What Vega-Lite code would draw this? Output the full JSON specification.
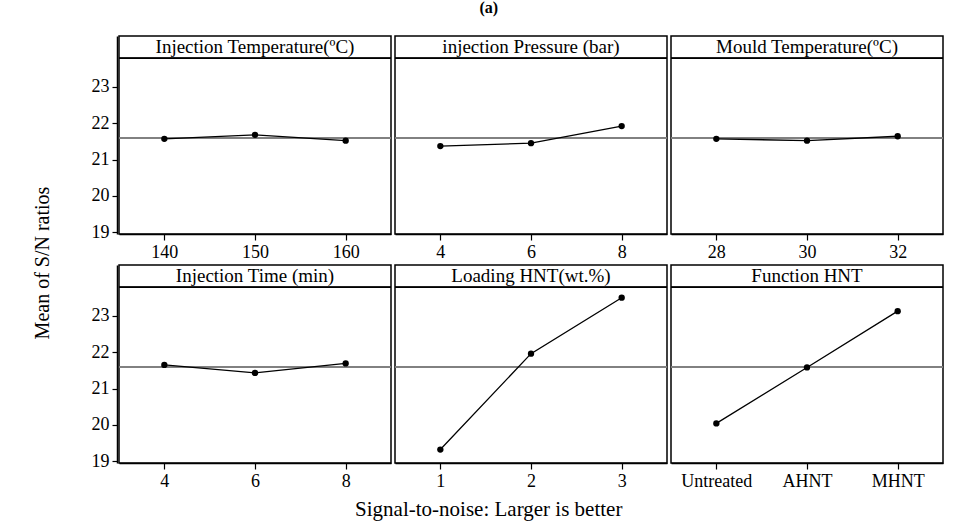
{
  "$schema": "https://vega.github.io/schema/vega-lite/v6.json",
  "padding": {"left": 33, "top": 0, "right": 25, "bottom": 2},
  "config": {
    "font": "Liberation Serif",
    "view": {"stroke": "#000", "strokeWidth": 1.5},
    "axis": {"domainColor": "#000", "domainWidth": 1.5, "tickColor": "#000", "tickWidth": 1.2, "labelColor": "#000", "labelFontSize": 18, "labelFont": "Liberation Serif", "grid": false}
  },
  "title": {"text": "(a)", "fontSize": 16, "fontWeight": "bold", "anchor": "middle", "offset": 19, "color": "#000"},
  "vconcat": [
    {
      "title": {"text": "Signal-to-noise: Larger is better", "orient": "bottom", "fontSize": 21, "fontWeight": "normal", "offset": 8, "anchor": "middle", "color": "#000"},
      "vconcat": [
        {
          "title": {"text": "Mean of S/N ratios", "orient": "left", "fontSize": 20, "fontWeight": "normal", "offset": 38, "anchor": "middle", "color": "#000"},
          "data": {
            "values": [
              {"factor": "Injection Temperature(ºC)", "level": "140", "sn": 21.57},
              {"factor": "Injection Temperature(ºC)", "level": "150", "sn": 21.68},
              {"factor": "Injection Temperature(ºC)", "level": "160", "sn": 21.52},
              {"factor": "injection Pressure (bar)", "level": "4", "sn": 21.37},
              {"factor": "injection Pressure (bar)", "level": "6", "sn": 21.45},
              {"factor": "injection Pressure (bar)", "level": "8", "sn": 21.92},
              {"factor": "Mould Temperature(ºC)", "level": "28", "sn": 21.57},
              {"factor": "Mould Temperature(ºC)", "level": "30", "sn": 21.52},
              {"factor": "Mould Temperature(ºC)", "level": "32", "sn": 21.64},
              {"factor": "Injection Time (min)", "level": "4", "sn": 21.65},
              {"factor": "Injection Time (min)", "level": "6", "sn": 21.43},
              {"factor": "Injection Time (min)", "level": "8", "sn": 21.69},
              {"factor": "Loading HNT(wt.%)", "level": "1", "sn": 19.32},
              {"factor": "Loading HNT(wt.%)", "level": "2", "sn": 21.96},
              {"factor": "Loading HNT(wt.%)", "level": "3", "sn": 23.5},
              {"factor": "Function HNT", "level": "Untreated", "sn": 20.04},
              {"factor": "Function HNT", "level": "AHNT", "sn": 21.58},
              {"factor": "Function HNT", "level": "MHNT", "sn": 23.13}
            ]
          },
          "facet": {
            "field": "factor", "type": "nominal",
            "sort": ["Injection Temperature(ºC)", "injection Pressure (bar)", "Mould Temperature(ºC)", "Injection Time (min)", "Loading HNT(wt.%)", "Function HNT"],
            "header": {"title": null, "labelFontSize": 19, "labelFont": "Liberation Serif", "labelFontWeight": "normal", "labelColor": "#000", "labelPadding": -21}
          },
          "columns": 3,
          "spacing": {"row": 2, "column": 0},
          "resolve": {"scale": {"x": "independent"}},
          "spec": {
            "width": 272,
            "height": 198,
            "layer": [
              {
                "mark": {"type": "rule", "color": "#7f7f7f", "strokeWidth": 1.5},
                "encoding": {"y": {"datum": 21.59, "type": "quantitative"}}
              },
              {
                "mark": {"type": "rule", "color": "#000", "strokeWidth": 1.5},
                "encoding": {"y": {"datum": 23.79, "type": "quantitative"}}
              },
              {
                "mark": {"type": "line", "color": "#000", "strokeWidth": 1.3},
                "encoding": {
                  "x": {"field": "level", "type": "ordinal", "sort": null, "scale": {"type": "point", "padding": 0.5}, "axis": {"title": null, "labelAngle": 0, "tickSize": 6, "labelPadding": 3}},
                  "y": {"field": "sn", "type": "quantitative", "scale": {"domain": [18.95, 24.4], "nice": false, "zero": false}, "axis": {"title": null, "values": [19, 20, 21, 22, 23], "tickSize": 5, "labelPadding": 3}}
                }
              },
              {
                "mark": {"type": "point", "filled": true, "color": "#000", "size": 40, "opacity": 1},
                "encoding": {
                  "x": {"field": "level", "type": "ordinal", "sort": null},
                  "y": {"field": "sn", "type": "quantitative"}
                }
              }
            ]
          }
        }
      ]
    }
  ]
}
